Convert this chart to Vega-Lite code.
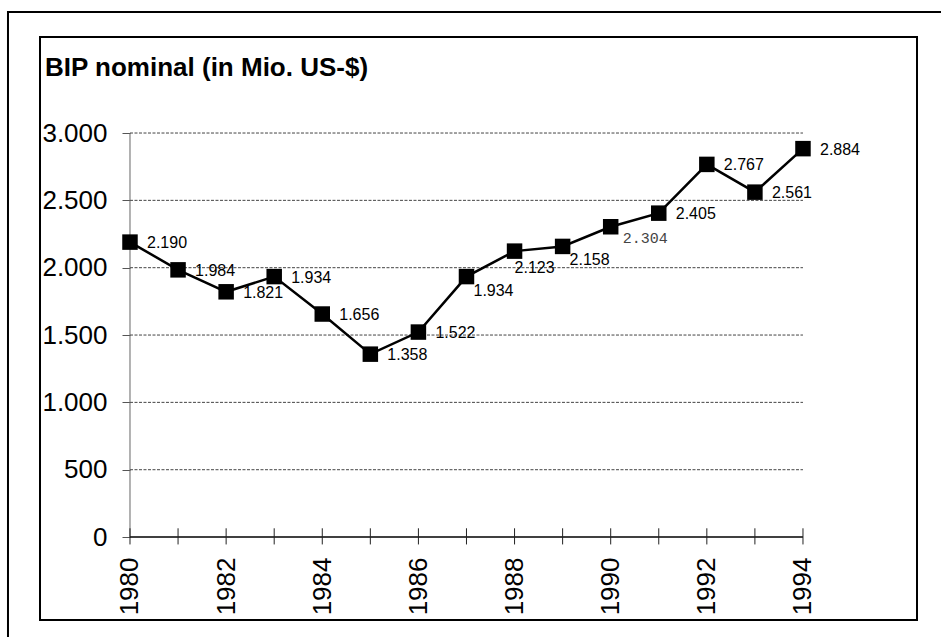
{
  "$schema": "https://vega.github.io/schema/vega-lite/v6.json",
  "width": 877,
  "height": 583,
  "autosize": {"type": "none"},
  "padding": {"left": 40, "top": 37, "right": 24, "bottom": 17},
  "background": "white",
  "config": {
    "locale": {"number": {"decimal": ",", "thousands": ".", "grouping": [3], "currency": ["", " €"]}},
    "view": {"stroke": "black", "strokeWidth": 2},
    "font": "Liberation Sans",
    "axisX": {
      "format": "d",
      "offset": -83,
      "domain": false,
      "ticks": false,
      "tickSize": 0,
      "grid": false,
      "labelAngle": -90,
      "labelPadding": 20,
      "labelFontSize": 26,
      "labelFont": "Liberation Sans",
      "labelColor": "black",
      "labelFlush": false,
      "labelOverlap": false
    },
    "axisY": {
      "format": ",d",
      "offset": -90,
      "domain": false,
      "grid": false,
      "ticks": true,
      "tickSize": 8,
      "tickColor": "#555",
      "tickWidth": 1,
      "labelFontSize": 26,
      "labelFont": "Liberation Sans",
      "labelColor": "black",
      "labelPadding": 15,
      "labelFlush": false,
      "labelOverlap": false
    }
  },
  "datasets": {
    "bip": [
      {"year": 1980, "value": 2190},
      {"year": 1981, "value": 1984},
      {"year": 1982, "value": 1821},
      {"year": 1983, "value": 1934},
      {"year": 1984, "value": 1656},
      {"year": 1985, "value": 1358},
      {"year": 1986, "value": 1522},
      {"year": 1987, "value": 1934},
      {"year": 1988, "value": 2123},
      {"year": 1989, "value": 2158},
      {"year": 1990, "value": 2304},
      {"year": 1991, "value": 2405},
      {"year": 1992, "value": 2767},
      {"year": 1993, "value": 2561},
      {"year": 1994, "value": 2884}
    ],
    "grid": [
      {"level": 500}, {"level": 1000}, {"level": 1500}, {"level": 2000}, {"level": 2500}, {"level": 3000}
    ],
    "one": [{}]
  },
  "layer": [
    {
      "data": {"name": "one"},
      "mark": {"type": "rect", "fill": "transparent", "stroke": "black", "strokeWidth": 2},
      "encoding": {
        "x": {"datum": 1977.462, "type": "quantitative", "scale": {"domain": [1978.128, 1996.372], "nice": false, "zero": false}, "axis": {"values": [1980, 1982, 1984, 1986, 1988, 1990, 1992, 1994], "title": null}},
        "x2": {"datum": 2000},
        "y": {"datum": 3898, "type": "quantitative", "scale": {"domain": [-616, 3713], "nice": false, "zero": false}, "axis": {"values": [0, 500, 1000, 1500, 2000, 2500, 3000], "title": null}},
        "y2": {"datum": -1500}
      }
    },
    {
      "data": {"name": "grid"},
      "mark": {"type": "rule", "color": "#444", "strokeWidth": 1, "strokeDash": [3, 1.5]},
      "encoding": {
        "x": {"datum": 1980, "type": "quantitative", "scale": {"domain": [1978.128, 1996.372], "nice": false, "zero": false}, "axis": {"values": [1980, 1982, 1984, 1986, 1988, 1990, 1992, 1994], "title": null}},
        "x2": {"datum": 1994},
        "y": {"field": "level", "type": "quantitative", "scale": {"domain": [-616, 3713], "nice": false, "zero": false}, "axis": {"values": [0, 500, 1000, 1500, 2000, 2500, 3000], "title": null}}
      }
    },
    {
      "data": {"name": "one"},
      "mark": {"type": "rule", "color": "#666", "strokeWidth": 1},
      "encoding": {
        "x": {"datum": 1980, "type": "quantitative", "scale": {"domain": [1978.128, 1996.372], "nice": false, "zero": false}, "axis": {"values": [1980, 1982, 1984, 1986, 1988, 1990, 1992, 1994], "title": null}},
        "y": {"datum": 0, "type": "quantitative", "scale": {"domain": [-616, 3713], "nice": false, "zero": false}, "axis": {"values": [0, 500, 1000, 1500, 2000, 2500, 3000], "title": null}},
        "y2": {"datum": 3000}
      }
    },
    {
      "data": {"name": "one"},
      "mark": {"type": "rule", "color": "black", "strokeWidth": 1.5},
      "encoding": {
        "x": {"datum": 1980, "type": "quantitative", "scale": {"domain": [1978.128, 1996.372], "nice": false, "zero": false}, "axis": {"values": [1980, 1982, 1984, 1986, 1988, 1990, 1992, 1994], "title": null}},
        "x2": {"datum": 1994},
        "y": {"datum": 0, "type": "quantitative", "scale": {"domain": [-616, 3713], "nice": false, "zero": false}, "axis": {"values": [0, 500, 1000, 1500, 2000, 2500, 3000], "title": null}}
      }
    },
    {
      "data": {"name": "bip"},
      "mark": {"type": "rule", "color": "#222", "strokeWidth": 1},
      "encoding": {
        "x": {"field": "year", "type": "quantitative", "scale": {"domain": [1978.128, 1996.372], "nice": false, "zero": false}, "axis": {"values": [1980, 1982, 1984, 1986, 1988, 1990, 1992, 1994], "title": null}},
        "y": {"datum": 65, "type": "quantitative", "scale": {"domain": [-616, 3713], "nice": false, "zero": false}, "axis": {"values": [0, 500, 1000, 1500, 2000, 2500, 3000], "title": null}},
        "y2": {"datum": -55}
      }
    },
    {
      "data": {"name": "bip"},
      "mark": {"type": "line", "color": "black", "strokeWidth": 2.5},
      "encoding": {
        "x": {"field": "year", "type": "quantitative", "scale": {"domain": [1978.128, 1996.372], "nice": false, "zero": false}, "axis": {"values": [1980, 1982, 1984, 1986, 1988, 1990, 1992, 1994], "title": null}},
        "y": {"field": "value", "type": "quantitative", "scale": {"domain": [-616, 3713], "nice": false, "zero": false}, "axis": {"values": [0, 500, 1000, 1500, 2000, 2500, 3000], "title": null}}
      }
    },
    {
      "data": {"name": "bip"},
      "mark": {"type": "point", "shape": "square", "filled": true, "size": 240, "color": "black", "opacity": 1},
      "encoding": {
        "x": {"field": "year", "type": "quantitative", "scale": {"domain": [1978.128, 1996.372], "nice": false, "zero": false}, "axis": {"values": [1980, 1982, 1984, 1986, 1988, 1990, 1992, 1994], "title": null}},
        "y": {"field": "value", "type": "quantitative", "scale": {"domain": [-616, 3713], "nice": false, "zero": false}, "axis": {"values": [0, 500, 1000, 1500, 2000, 2500, 3000], "title": null}}
      }
    },
    {
      "data": {"name": "bip"},
      "transform": [{"filter": "datum.year < 1987 || datum.year > 1990"}],
      "mark": {"type": "text", "align": "left", "baseline": "middle", "dx": 17, "dy": 1, "fontSize": 16, "font": "Liberation Sans", "color": "black"},
      "encoding": {
        "x": {"field": "year", "type": "quantitative", "scale": {"domain": [1978.128, 1996.372], "nice": false, "zero": false}, "axis": {"values": [1980, 1982, 1984, 1986, 1988, 1990, 1992, 1994], "title": null}},
        "y": {"field": "value", "type": "quantitative", "scale": {"domain": [-616, 3713], "nice": false, "zero": false}, "axis": {"values": [0, 500, 1000, 1500, 2000, 2500, 3000], "title": null}},
        "text": {"field": "value", "type": "quantitative", "format": ",d"}
      }
    },
    {
      "data": {"name": "bip"},
      "transform": [{"filter": "datum.year == 1987 || datum.year == 1989"}],
      "mark": {"type": "text", "align": "left", "baseline": "middle", "dx": 7, "dy": 14, "fontSize": 16, "font": "Liberation Sans", "color": "black"},
      "encoding": {
        "x": {"field": "year", "type": "quantitative", "scale": {"domain": [1978.128, 1996.372], "nice": false, "zero": false}, "axis": {"values": [1980, 1982, 1984, 1986, 1988, 1990, 1992, 1994], "title": null}},
        "y": {"field": "value", "type": "quantitative", "scale": {"domain": [-616, 3713], "nice": false, "zero": false}, "axis": {"values": [0, 500, 1000, 1500, 2000, 2500, 3000], "title": null}},
        "text": {"field": "value", "type": "quantitative", "format": ",d"}
      }
    },
    {
      "data": {"name": "bip"},
      "transform": [{"filter": "datum.year == 1988"}],
      "mark": {"type": "text", "align": "left", "baseline": "middle", "dx": 0, "dy": 17, "fontSize": 16, "font": "Liberation Sans", "color": "black"},
      "encoding": {
        "x": {"field": "year", "type": "quantitative", "scale": {"domain": [1978.128, 1996.372], "nice": false, "zero": false}, "axis": {"values": [1980, 1982, 1984, 1986, 1988, 1990, 1992, 1994], "title": null}},
        "y": {"field": "value", "type": "quantitative", "scale": {"domain": [-616, 3713], "nice": false, "zero": false}, "axis": {"values": [0, 500, 1000, 1500, 2000, 2500, 3000], "title": null}},
        "text": {"field": "value", "type": "quantitative", "format": ",d"}
      }
    },
    {
      "data": {"name": "bip"},
      "transform": [{"filter": "datum.year == 1990"}],
      "mark": {"type": "text", "align": "left", "baseline": "middle", "dx": 12, "dy": 11, "fontSize": 15, "font": "Liberation Mono", "color": "#444"},
      "encoding": {
        "x": {"field": "year", "type": "quantitative", "scale": {"domain": [1978.128, 1996.372], "nice": false, "zero": false}, "axis": {"values": [1980, 1982, 1984, 1986, 1988, 1990, 1992, 1994], "title": null}},
        "y": {"field": "value", "type": "quantitative", "scale": {"domain": [-616, 3713], "nice": false, "zero": false}, "axis": {"values": [0, 500, 1000, 1500, 2000, 2500, 3000], "title": null}},
        "text": {"field": "value", "type": "quantitative", "format": ",d"}
      }
    },
    {
      "data": {"name": "one"},
      "mark": {"type": "text", "align": "left", "baseline": "alphabetic", "fontSize": 26, "fontWeight": "bold", "font": "Liberation Sans", "color": "black", "text": "BIP nominal (in Mio. US-$)"},
      "encoding": {
        "x": {"datum": 1978.232, "type": "quantitative", "scale": {"domain": [1978.128, 1996.372], "nice": false, "zero": false}, "axis": {"values": [1980, 1982, 1984, 1986, 1988, 1990, 1992, 1994], "title": null}},
        "y": {"datum": 3423, "type": "quantitative", "scale": {"domain": [-616, 3713], "nice": false, "zero": false}, "axis": {"values": [0, 500, 1000, 1500, 2000, 2500, 3000], "title": null}}
      }
    }
  ]
}
